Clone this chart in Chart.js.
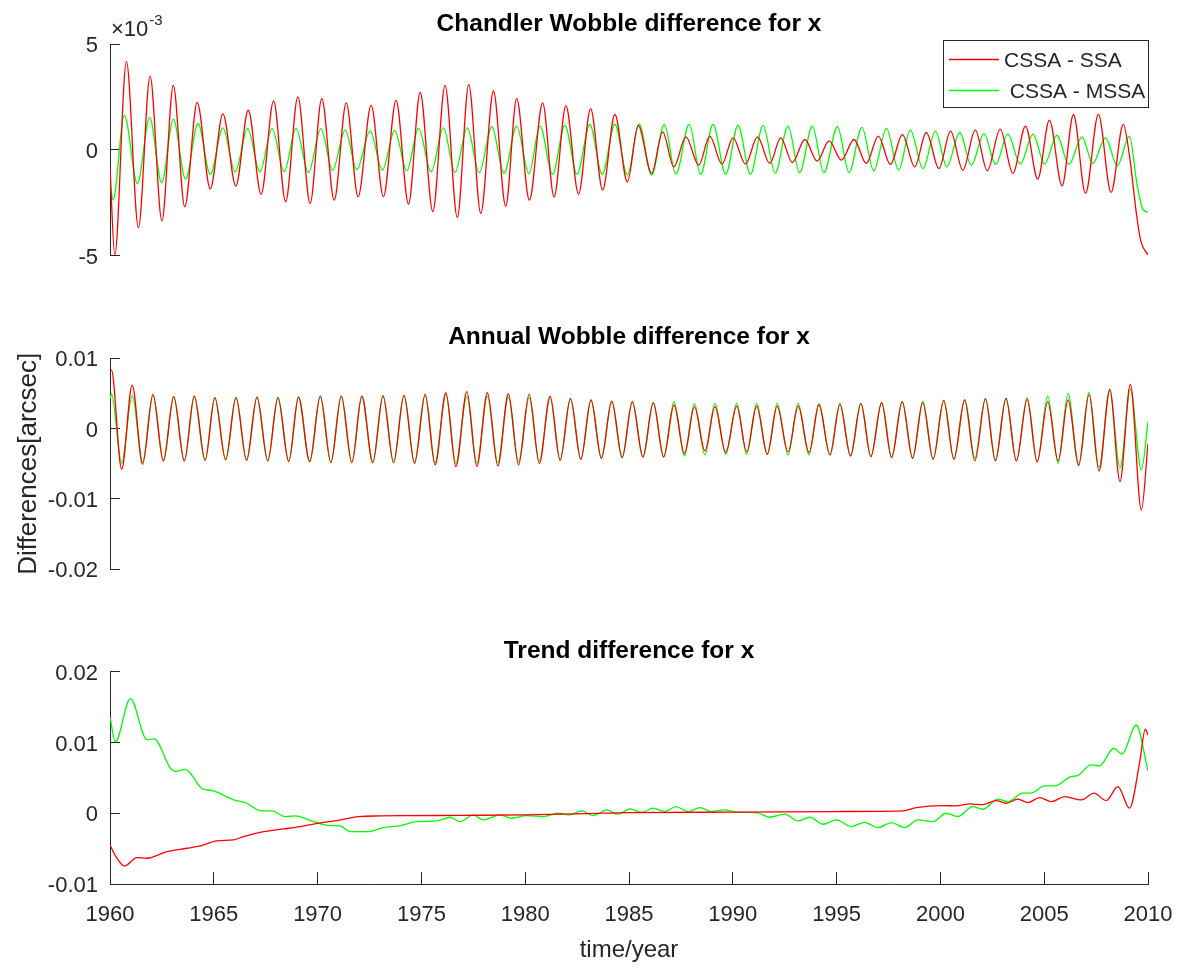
<!DOCTYPE html>
<html>
<head>
<meta charset="utf-8">
<title>Wobble differences for x</title>
<script src="https://cdn.jsdelivr.net/npm/chart.js@4.4.1/dist/chart.umd.min.js"></script>
<style>
  body { margin: 0; background: #fff; }
  #wrap { position: relative; width: 1179px; height: 971px; }
  canvas { position: absolute; left: 0; top: 0; }
</style>
</head>
<body>
<div id="wrap">
  <canvas id="chandler" width="1179" height="971"></canvas>
  <canvas id="annual" width="1179" height="971"></canvas>
  <canvas id="trend" width="1179" height="971"></canvas>
</div>
<script>
// values are in units of 1e-3 arcsec (peaks / troughs / bends)
const seriesNames = ["CSSA - SSA", " CSSA - MSSA"];

// Chandler wobble, CSSA - SSA
const chandlerSsaYears = [1960.00, 1960.23, 1960.79, 1961.37, 1961.93, 1962.50, 1963.05, 1963.60, 1964.20, 1964.83,
  1965.44, 1966.06, 1966.66, 1967.28, 1967.88, 1968.46, 1969.05, 1969.64, 1970.20, 1970.80,
  1971.38, 1971.95, 1972.58, 1973.17, 1973.78, 1974.38, 1974.94, 1975.55, 1976.14, 1976.73,
  1977.28, 1977.86, 1978.47, 1979.06, 1979.59, 1980.20, 1980.84, 1981.39, 1981.96, 1982.57,
  1983.15, 1983.73, 1984.32, 1984.92, 1985.44, 1986.09, 1986.62, 1987.16, 1987.74, 1988.36,
  1988.89, 1989.48, 1990.01, 1990.61, 1991.19, 1991.78, 1992.31, 1992.87, 1993.47, 1994.06,
  1994.64, 1995.23, 1995.84, 1996.43, 1997.01, 1997.59, 1998.17, 1998.76, 1999.32, 1999.93,
  2000.49, 2001.08, 2001.68, 2002.26, 2002.88, 2003.49, 2004.10, 2004.69, 2005.25, 2005.86,
  2006.41, 2006.99, 2007.61, 2008.22, 2008.81, 2009.11, 2009.44, 2009.65, 2010.00];
const chandlerSsa = [-0.82, -4.97, 4.18, -3.68, 3.48, -3.35, 3.05, -2.69, 2.24, -1.84,
  1.70, -1.71, 1.87, -2.10, 2.31, -2.45, 2.50, -2.53, 2.42, -2.37,
  2.22, -2.22, 2.11, -2.22, 2.34, -2.56, 2.71, -2.92, 3.05, -3.19,
  3.08, -3.00, 2.78, -2.66, 2.42, -2.37, 2.22, -2.22, 2.09, -2.09,
  1.95, -1.90, 1.67, -1.51, 1.16, -1.11, 0.85, -0.80, 0.61, -0.72,
  0.65, -0.67, 0.57, -0.67, 0.61, -0.64, 0.57, -0.60, 0.49, -0.53,
  0.42, -0.49, 0.49, -0.64, 0.65, -0.69, 0.72, -0.80, 0.82, -0.88,
  0.88, -0.96, 0.93, -0.99, 0.98, -1.11, 1.12, -1.38, 1.40, -1.70,
  1.67, -2.06, 1.68, -2.01, 1.20, -0.30, -3.00, -4.30, -4.97];

// Chandler wobble, CSSA - MSSA
const chandlerMssaYears = [1960.00, 1960.15, 1960.69, 1961.32, 1961.91, 1962.49, 1963.05, 1963.64, 1964.24, 1964.83,
  1965.44, 1966.03, 1966.63, 1967.22, 1967.81, 1968.39, 1968.96, 1969.56, 1970.16, 1970.72,
  1971.33, 1971.89, 1972.53, 1973.12, 1973.71, 1974.30, 1974.86, 1975.47, 1976.06, 1976.62,
  1977.21, 1977.79, 1978.39, 1978.98, 1979.59, 1980.18, 1980.71, 1981.32, 1981.91, 1982.50,
  1983.11, 1983.71, 1984.32, 1984.92, 1985.49, 1986.09, 1986.70, 1987.26, 1987.90, 1988.45,
  1989.05, 1989.66, 1990.25, 1990.85, 1991.46, 1992.04, 1992.66, 1993.22, 1993.83, 1994.39,
  1995.04, 1995.60, 1996.22, 1996.79, 1997.40, 1997.99, 1998.55, 1999.16, 1999.76, 2000.31,
  2000.93, 2001.49, 2002.10, 2002.66, 2003.25, 2003.85, 2004.46, 2005.02, 2005.61, 2006.19,
  2006.82, 2007.34, 2007.95, 2008.52, 2009.11, 2009.45, 2009.75, 2010.00];
const chandlerMssa = [-1.58, -2.37, 1.64, -1.59, 1.53, -1.56, 1.45, -1.38, 1.25, -1.16,
  1.04, -1.04, 1.01, -1.04, 1.01, -1.04, 1.01, -1.07, 1.00, -0.96,
  0.93, -0.93, 0.90, -0.96, 0.91, -0.99, 1.01, -1.04, 1.04, -1.07,
  1.04, -1.08, 1.09, -1.12, 1.12, -1.12, 1.12, -1.15, 1.16, -1.15,
  1.20, -1.16, 1.21, -1.19, 1.21, -1.19, 1.20, -1.15, 1.20, -1.16,
  1.20, -1.16, 1.16, -1.15, 1.16, -1.10, 1.12, -1.08, 1.12, -1.08,
  1.09, -1.07, 1.06, -1.00, 1.01, -0.96, 0.93, -0.88, 0.88, -0.80,
  0.82, -0.72, 0.77, -0.69, 0.74, -0.67, 0.74, -0.67, 0.69, -0.69,
  0.61, -0.64, 0.58, -0.75, 0.65, -1.50, -2.80, -2.95];

// Annual wobble: both series share the same peak / trough times
const annualYears = [1960.00,
  1960.07, 1960.56, 1961.07, 1961.57, 1962.07, 1962.57, 1963.07, 1963.58, 1964.06, 1964.58,
  1965.05, 1965.57, 1966.07, 1966.58, 1967.08, 1967.60, 1968.09, 1968.61, 1969.08, 1969.62,
  1970.13, 1970.64, 1971.14, 1971.65, 1972.13, 1972.66, 1973.15, 1973.66, 1974.16, 1974.67,
  1975.18, 1975.66, 1976.18, 1976.66, 1977.19, 1977.67, 1978.18, 1978.68, 1979.19, 1979.68,
  1980.19, 1980.68, 1981.20, 1981.68, 1982.18, 1982.68, 1983.17, 1983.67, 1984.17, 1984.67,
  1985.16, 1985.67, 1986.17, 1986.67, 1987.17, 1987.67, 1988.15, 1988.66, 1989.14, 1989.66,
  1990.19, 1990.67, 1991.15, 1991.66, 1992.14, 1992.66, 1993.15, 1993.67, 1994.15, 1994.68,
  1995.16, 1995.67, 1996.17, 1996.65, 1997.17, 1997.65, 1998.16, 1998.66, 1999.15, 1999.65,
  2000.16, 2000.65, 2001.17, 2001.66, 2002.17, 2002.65, 2003.16, 2003.66, 2004.18, 2004.66,
  2005.17, 2005.67, 2006.15, 2006.66, 2007.16, 2007.64, 2008.16, 2008.65, 2009.15, 2009.68,
  2010.00];
const annualSsa = [8.2,
  8.3, -5.77, 6.2, -5.06, 4.87, -4.59, 4.54, -4.59, 4.63, -4.49,
  4.4, -4.44, 4.4, -4.49, 4.49, -4.59, 4.4, -4.68, 4.49, -4.68,
  4.63, -4.82, 4.63, -4.82, 4.63, -4.82, 4.63, -4.82, 4.73, -4.92,
  4.87, -5.15, 5.1, -5.39, 5.25, -5.39, 5.1, -5.3, 4.96, -5.15,
  4.87, -4.96, 4.63, -4.49, 4.3, -4.35, 4.07, -4.21, 3.92, -4.11,
  3.83, -4.02, 3.69, -4.02, 3.36, -3.55, 3.12, -3.17, 3.12, -3.4,
  3.2, -3.3, 3.2, -3.64, 3.2, -3.3, 3.2, -3.4, 3.36, -3.74,
  3.45, -3.88, 3.59, -3.97, 3.69, -4.11, 3.83, -4.21, 3.69, -4.35,
  4.02, -4.35, 4.07, -4.59, 4.26, -4.59, 4.3, -4.59, 4.16, -4.73,
  3.83, -4.59, 4.07, -5.15, 4.87, -6.0, 5.58, -7.52, 6.29, -11.58,
  -2.13];
const annualMssa = [4.16,
  4.96, -4.9, 4.73, -4.73, 4.73, -4.59, 4.54, -4.59, 4.63, -4.49,
  4.4, -4.35, 4.4, -4.49, 4.49, -4.59, 4.4, -4.68, 4.49, -4.68,
  4.63, -4.82, 4.63, -4.82, 4.63, -4.82, 4.73, -4.82, 4.73, -4.82,
  4.73, -4.82, 4.87, -4.96, 4.63, -4.96, 4.63, -4.82, 4.5, -4.68,
  4.4, -4.59, 4.4, -4.49, 4.3, -4.35, 4.07, -4.21, 3.92, -4.11,
  3.83, -4.02, 3.69, -4.02, 3.83, -3.88, 3.55, -3.74, 3.59, -3.64,
  3.59, -3.64, 3.55, -3.64, 3.59, -3.74, 3.59, -3.74, 3.59, -3.74,
  3.59, -3.88, 3.59, -3.97, 3.69, -4.11, 3.83, -4.21, 3.92, -4.35,
  4.02, -4.35, 4.07, -4.21, 4.26, -4.49, 4.3, -4.59, 4.4, -4.73,
  4.63, -4.92, 5.01, -5.3, 5.2, -5.53, 5.44, -5.63, 5.58, -5.86,
  0.95];

// Trend, CSSA - SSA
const trendSsaYears = [1960.00, 1960.30, 1960.70, 1961.30, 1961.78, 1962.75, 1963.70, 1964.35, 1965.15, 1965.95,
  1966.43, 1967.40, 1968.36, 1969.17, 1970.05, 1970.93, 1971.97, 1973.01, 1974.00, 1977.00,
  1980.00, 1983.00, 1985.00, 1990.00, 1995.00, 1998.20, 1998.84, 2000.13, 2000.77, 2001.41,
  2002.04, 2002.68, 2003.17, 2003.73, 2004.21, 2004.78, 2005.35, 2005.99, 2006.79, 2007.40,
  2007.99, 2008.55, 2009.11, 2009.59, 2009.87, 2010.00];
const trendSsa = [-4.48, -6.2, -7.45, -6.27, -6.36, -5.42, -4.95, -4.62, -3.91, -3.77,
  -3.3, -2.6, -2.22, -1.89, -1.41, -1.05, -0.47, -0.38, -0.35, -0.3,
  -0.24, -0.05, 0.1, 0.15, 0.24, 0.33, 0.8, 1.08, 1.03, 1.31,
  1.22, 1.79, 1.41, 1.98, 1.5, 2.2, 1.64, 2.35, 1.88, 2.83,
  1.79, 3.76, 0.71, 7.06, 11.87, 11.06];

// Trend, CSSA - MSSA
const trendMssaYears = [1960.00, 1960.26, 1960.98, 1961.78, 1962.13, 1962.90, 1963.15, 1963.63, 1964.43, 1964.99,
  1965.96, 1966.52, 1967.32, 1967.80, 1968.44, 1968.92, 1969.80, 1970.60, 1971.09, 1971.57,
  1972.45, 1973.17, 1973.97, 1974.78, 1975.74, 1976.38, 1976.86, 1977.50, 1977.98, 1978.79,
  1979.35, 1980.07, 1980.87, 1981.59, 1982.15, 1982.72, 1983.28, 1983.92, 1984.48, 1985.04,
  1985.61, 1986.17, 1986.73, 1987.26, 1987.85, 1988.42, 1988.98, 1989.62, 1990.18, 1991.14,
  1991.78, 1992.50, 1993.14, 1993.71, 1994.35, 1994.99, 1995.71, 1996.35, 1996.99, 1997.64,
  1998.28, 1998.92, 1999.64, 2000.28, 2000.84, 2001.56, 2002.04, 2002.77, 2003.25, 2003.97,
  2004.37, 2005.01, 2005.49, 2006.29, 2006.61, 2007.26, 2007.66, 2008.35, 2008.75, 2009.43,
  2010.00];
const trendMssa = [13.6, 10.1, 16.2, 10.4, 10.5, 6.4, 5.9, 6.2, 3.5, 3.15,
  1.9, 1.5, 0.33, 0.33, -0.47, -0.38, -1.18, -1.75, -1.8, -2.6,
  -2.6, -2.03, -1.75, -1.18, -1.09, -0.57, -1.18, -0.24, -0.95, -0.24,
  -0.71, -0.33, -0.47, 0.0, -0.24, 0.33, -0.33, 0.47, -0.14, 0.61,
  0.14, 0.71, 0.24, 0.94, 0.24, 0.8, 0.24, 0.47, 0.14, 0.1,
  -0.57, -0.14, -1.09, -0.57, -1.56, -0.95, -1.89, -1.28, -2.03, -1.32,
  -2.03, -0.95, -1.18, 0.0, -0.47, 0.94, 0.56, 1.98, 1.64, 2.83,
  2.83, 3.86, 3.86, 5.17, 5.31, 6.82, 6.68, 9.18, 8.38, 12.47,
  6.02];

// tick labels
const yearTicks = [1960, 1965, 1970, 1975, 1980, 1985, 1990, 1995, 2000, 2005, 2010];
const chandlerTicks = [-5, 0, 5];
const annualTicks = [-0.02, -0.01, 0, 0.01];
const trendTicks = [-0.01, 0, 0.01, 0.02];

const FONT = "'Liberation Sans', Arial, Helvetica, sans-serif";
const INK = "#262626";
const RED = "#ff0000";
const GREEN = "#00ff00";

function toPoints(years, vals, factor) {
  return years.map((x, i) => ({ x: x, y: vals[i] * factor }));
}

function lineSet(label, color, years, vals, factor) {
  return {
    label: label,
    data: toPoints(years, vals, factor),
    borderColor: color,
    borderWidth: 1.3,
    pointRadius: 0,
    cubicInterpolationMode: "monotone",
    fill: false
  };
}

// the little "x10^-3" above the first axis + the boxed legend
const extraText = {
  id: "extraText",
  afterDraw(chart, args, opts) {
    if (!opts.show) return;
    const { ctx, chartArea } = chart;
    ctx.save();
    ctx.fillStyle = INK;
    ctx.textBaseline = "alphabetic";
    ctx.textAlign = "left";
    ctx.font = "22px " + FONT;
    ctx.fillText("\u00d710", chartArea.left + 1, chartArea.top - 8);
    const w = ctx.measureText("\u00d710").width;
    ctx.font = "15px " + FONT;
    ctx.fillText("-3", chartArea.left + 2 + w, chartArea.top - 19);

    // legend box in the upper right corner
    const bw = 206, bh = 68;
    const bx = chartArea.right + 1 - bw, by = chartArea.top - 4;
    ctx.fillStyle = "#fff";
    ctx.fillRect(bx, by, bw, bh);
    ctx.strokeStyle = INK;
    ctx.lineWidth = 1;
    ctx.strokeRect(bx + 0.5, by + 0.5, bw - 1, bh - 1);
    ctx.font = "21px " + FONT;
    ctx.textBaseline = "middle";
    chart.data.datasets.forEach((ds, i) => {
      const y = by + 19.5 + i * 31;
      ctx.strokeStyle = ds.borderColor;
      ctx.lineWidth = 1.3;
      ctx.beginPath();
      ctx.moveTo(bx + 6, y);
      ctx.lineTo(bx + 56, y);
      ctx.stroke();
      ctx.fillStyle = INK;
      ctx.fillText(ds.label, bx + 61, y + 2);
    });
    ctx.restore();
  }
};

function yScale(min, max, ticks, title) {
  return {
    type: "linear",
    min: min,
    max: max,
    afterFit(scale) { scale.width = 110; },
    afterBuildTicks(scale) { scale.ticks = ticks.map(v => ({ value: v })); },
    grid: { drawOnChartArea: false, drawTicks: true, tickLength: -10, tickColor: INK },
    border: { display: true, color: INK, width: 1 },
    ticks: {
      color: INK,
      padding: 22,
      labelOffset: 2,
      font: { family: FONT, size: 22 },
      callback: v => String(v)
    },
    title: title ? {
      display: true,
      text: title,
      color: INK,
      font: { family: FONT, size: 26 },
      padding: { top: 13, bottom: 0 }
    } : { display: false }
  };
}

function xScale(show) {
  if (!show) return { type: "linear", min: 1960, max: 2010, display: false };
  return {
    type: "linear",
    min: 1960,
    max: 2010,
    afterFit(scale) {
      scale.height = 87;
      // the layout padding already leaves room for the end labels
      scale.paddingLeft = 0;
      scale.paddingRight = 0;
    },
    afterBuildTicks(scale) { scale.ticks = yearTicks.map(v => ({ value: v })); },
    grid: { drawOnChartArea: false, drawTicks: true, tickLength: -12, tickColor: INK },
    border: { display: true, color: INK, width: 1 },
    ticks: {
      color: INK,
      padding: 30,
      maxRotation: 0,
      font: { family: FONT, size: 22 },
      callback: v => String(v)
    },
    title: {
      display: true,
      text: "time/year",
      color: INK,
      font: { family: FONT, size: 24 },
      padding: { top: 0, bottom: 6 }
    }
  };
}

function makePanel(id, cfg) {
  return new Chart(document.getElementById(id), {
    type: "line",
    data: { datasets: cfg.datasets },
    options: {
      responsive: false,
      animation: false,
      events: [],
      layout: { padding: { top: cfg.padTop, bottom: cfg.padBottom, left: 0, right: 31 } },
      scales: { x: xScale(cfg.showX), y: cfg.y },
      plugins: {
        legend: { display: false },
        tooltip: { enabled: false },
        title: {
          display: true,
          text: cfg.title,
          fullSize: false,
          color: "#000",
          font: { family: FONT, size: 24.5, weight: "bold" },
          padding: { top: 0, bottom: cfg.titleGap }
        },
        extraText: { show: !!cfg.legend }
      }
    },
    plugins: [extraText]
  });
}

makePanel("chandler", {
  title: "Chandler Wobble difference for x",
  padTop: 9.3, titleGap: 5.3, padBottom: 715.3, showX: false, legend: true,
  y: yScale(-5, 5, chandlerTicks),
  datasets: [
    lineSet(seriesNames[0], RED, chandlerSsaYears, chandlerSsa, 1),
    lineSet(seriesNames[1], GREEN, chandlerMssaYears, chandlerMssa, 1)
  ]
});

makePanel("annual", {
  title: "Annual Wobble difference for x",
  padTop: 322.3, titleGap: 6.6, padBottom: 401.7, showX: false,
  y: yScale(-0.02, 0.01, annualTicks, "Differences[arcsec]"),
  datasets: [
    lineSet(seriesNames[0], RED, annualYears, annualSsa, 0.001),
    lineSet(seriesNames[1], GREEN, annualYears, annualMssa, 0.001)
  ]
});

makePanel("trend", {
  title: "Trend difference for x",
  padTop: 636.3, titleGap: 6.0, padBottom: 0, showX: true,
  y: yScale(-0.01, 0.02, trendTicks),
  datasets: [
    lineSet(seriesNames[0], RED, trendSsaYears, trendSsa, 0.001),
    lineSet(seriesNames[1], GREEN, trendMssaYears, trendMssa, 0.001)
  ]
});
</script>
</body>
</html>
